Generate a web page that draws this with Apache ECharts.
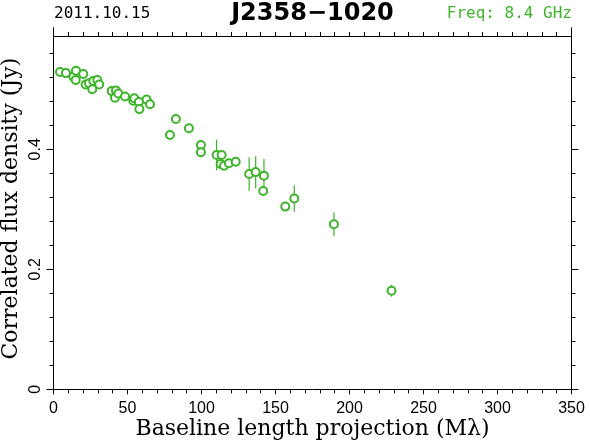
<!DOCTYPE html>
<html>
<head>
<meta charset="utf-8">
<script src="https://cdn.jsdelivr.net/npm/echarts@6/dist/echarts.min.js"></script>
<style>
  html, body { margin: 0; padding: 0; background: #fff; }
  #chart { width: 590px; height: 443px; }
</style>
</head>
<body>
<div id="chart"></div>
<script>
  // baseline projection (Mλ), flux (Jy), error (Jy)
  const baseline = [4.4, 8.4, 13.4, 15.2, 15.0, 20.1, 21.7, 24.0, 26.2, 26.9, 29.6, 30.9,
    39.3, 41.5, 42.2, 43.8, 48.3, 53.9, 54.6, 57.7, 58.0, 62.9, 65.2,
    78.7, 82.7, 91.5, 99.6, 99.6, 110.2, 113.6, 112.9, 115.2, 118.5, 123.1,
    132.2, 136.6, 142.2, 141.7, 156.6, 162.7, 189.5, 228.4];
  const flux = [0.529, 0.527, 0.521, 0.531, 0.5155, 0.5255, 0.508, 0.510, 0.500, 0.514, 0.5155, 0.508,
    0.497, 0.486, 0.498, 0.493, 0.488, 0.481, 0.485, 0.479, 0.467, 0.483, 0.475,
    0.424, 0.4505, 0.435, 0.407, 0.395, 0.3905, 0.3905, 0.3755, 0.3727, 0.3767, 0.3793,
    0.3588, 0.362, 0.356, 0.3305, 0.3045, 0.318, 0.275, 0.1643];
  const fluxErr = [0.004, 0.004, 0.004, 0.005, 0.004, 0.004, 0.005, 0.004, 0.005, 0.004, 0.004, 0.005,
    0.005, 0.005, 0.007, 0.005, 0.004, 0.005, 0.004, 0.005, 0.005, 0.005, 0.005,
    0.005, 0.005, 0.005, 0.005, 0.005, 0.0255, 0.006, 0.006, 0.005, 0.005, 0.005,
    0.028, 0.027, 0.028, 0.006, 0.005, 0.022, 0.0195, 0.01];

  const yMajorTicks = [0, 0.2, 0.4];
  const yMinorTicks = [0.04, 0.08, 0.12, 0.16, 0.24, 0.28, 0.32, 0.36, 0.44, 0.48, 0.52, 0.56];

  const green = '#3db42a';
  const tickFont = 'Liberation Sans';
  const serif = 'DejaVu Serif';

  const myEcharts = echarts.init(document.getElementById('chart'));

  let points = baseline.map((x, i) => [x, flux[i], fluxErr[i]]);

  // shared bits for the y axes (max is where the frame's side lines stop)
  const yBase = { type: 'value', min: 0, max: 0.6022, splitLine: { show: false },
    axisLine: { show: true, lineStyle: { color: '#000', width: 1 } } };

  let option = {
    backgroundColor: '#fff',
    animation: false,
    title: [
      { text: '2011.10.15', left: 54, top: 6, padding: 0,
        textStyle: { fontFamily: 'DejaVu Sans Mono', fontSize: 16, fontWeight: 'normal', color: '#000' } },
      { text: 'J2358\u22121020', left: 312.5, textAlign: 'center', top: 2, padding: 0,
        textStyle: { fontFamily: 'DejaVu Sans', fontSize: 24, fontWeight: 'bold', color: '#000' } },
      { text: 'Freq: 8.4 GHz', right: 18, top: 6, padding: 0,
        textStyle: { fontFamily: 'DejaVu Sans Mono', fontSize: 16, fontWeight: 'normal', color: green } }
    ],
    grid: { left: 53.5, right: 18.5, top: 28, bottom: 53.7, outerBoundsMode: 'none', containLabel: false },
    xAxis: [
      {
        type: 'value', position: 'bottom', min: 0, max: 350, interval: 50,
        name: 'Baseline length projection (M\u03bb)', nameLocation: 'middle', nameGap: 29,
        nameMoveOverlap: false,
        nameTextStyle: { fontFamily: serif, fontSize: 22, color: '#000' },
        axisLine: { show: true, onZero: false, lineStyle: { color: '#000', width: 1 } },
        axisTick: { show: true, length: 5, lineStyle: { color: '#000' } },
        minorTick: { show: true, splitNumber: 5, length: 4, lineStyle: { color: '#000' } },
        axisLabel: { margin: 11, fontFamily: tickFont, fontSize: 16, color: '#000' },
        splitLine: { show: false }
      },
      {
        type: 'value', position: 'top', offset: -8, min: 0, max: 350, interval: 50,
        axisLine: { show: true, onZero: false, lineStyle: { color: '#000', width: 1 } },
        axisTick: { show: true, length: 4, lineStyle: { color: '#000' } },
        minorTick: { show: true, splitNumber: 5, length: 4, lineStyle: { color: '#000' } },
        axisLabel: { show: false },
        splitLine: { show: false }
      }
    ],
    yAxis: [
      Object.assign({}, yBase, {
        position: 'left',
        name: 'Correlated flux density (Jy)', nameLocation: 'middle', nameGap: 31,
        nameMoveOverlap: false,
        nameTextStyle: { fontFamily: serif, fontSize: 22, color: '#000' },
        axisTick: { show: true, length: 7, customValues: yMajorTicks, lineStyle: { color: '#000' } },
        axisLabel: { show: true, rotate: 90, margin: 10, customValues: yMajorTicks,
          fontFamily: tickFont, fontSize: 16, color: '#000' }
      }),
      Object.assign({}, yBase, {
        position: 'left',
        axisTick: { show: true, length: 4, customValues: yMinorTicks, lineStyle: { color: '#000' } },
        axisLabel: { show: false }
      }),
      Object.assign({}, yBase, {
        position: 'right',
        axisTick: { show: true, length: 7, customValues: yMajorTicks, lineStyle: { color: '#000' } },
        axisLabel: { show: false }
      }),
      Object.assign({}, yBase, {
        position: 'right',
        axisTick: { show: true, length: 4, customValues: yMinorTicks, lineStyle: { color: '#000' } },
        axisLabel: { show: false }
      })
    ],
    series: [
      {
        type: 'custom',
        xAxisIndex: 0, yAxisIndex: 0,
        z: 1,
        data: points,
        renderItem: function (params, api) {
          let x = api.value(0), y = api.value(1), e = api.value(2);
          let lo = api.coord([x, y - e]);
          let hi = api.coord([x, y + e]);
          return {
            type: 'line',
            shape: { x1: lo[0], y1: lo[1], x2: hi[0], y2: hi[1] },
            style: { stroke: green, lineWidth: 1.2 }
          };
        }
      },
      {
        type: 'scatter',
        xAxisIndex: 0, yAxisIndex: 0,
        z: 3,
        symbol: 'circle',
        symbolSize: 8,
        data: points.map(p => [p[0], p[1]]),
        itemStyle: { color: '#fff', borderColor: green, borderWidth: 2, opacity: 1 }
      }
    ]
  };
  myEcharts.setOption(option);
</script>
</body>
</html>
